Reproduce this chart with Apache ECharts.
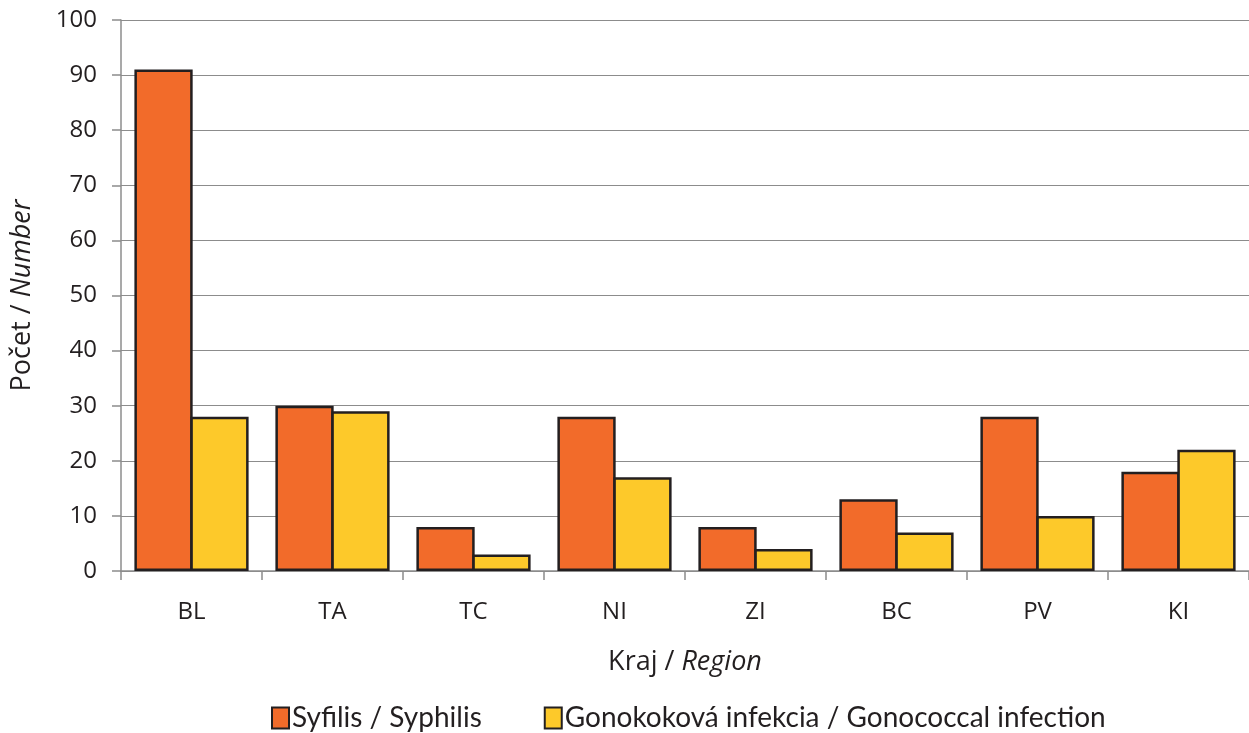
<!DOCTYPE html>
<html><head><meta charset="utf-8">
<script src="https://cdn.jsdelivr.net/npm/echarts@6/dist/echarts.min.js"></script>
<style>html,body{margin:0;padding:0;background:#fff}#c{width:1249px;height:733px}</style>
</head><body><div id="c"></div>
<script>
const categories = ['BL','TA','TC','NI','ZI','BC','PV','KI'];
const syphilis = [91,30,8,28,8,13,28,18];
const gonococcal = [28,29,3,17,4,7,10,22];
const yTicks = [0,10,20,30,40,50,60,70,80,90,100];

const font = '"Open Sans", Lato, sans-serif';
const chart = echarts.init(document.getElementById('c'), null, {renderer:'canvas'});
chart.setOption({
  animation:false,
  textStyle:{fontFamily:font},
  grid:{left:121,right:0,top:20,bottom:162,containLabel:false,outerBoundsMode:'none'},
  legend:{
    bottom:-4,left:266,itemWidth:17,itemHeight:21,itemGap:62,
    textStyle:{fontFamily:'Lato, sans-serif',fontSize:28,color:'#231F20',padding:[0,0,0,-2]},
    icon:'rect',
    itemStyle:{borderColor:'#231F20',borderWidth:2},
    data:['Syfilis / Syphilis','Gonokoková infekcia / Gonococcal infection']
  },
  xAxis:{
    type:'category',data:categories,
    axisLine:{lineStyle:{color:'#8c8c8c',width:1.5}},
    axisTick:{show:true,length:9,lineStyle:{color:'#8c8c8c',width:1.5}},
    axisLabel:{fontSize:24,color:'#231F20',margin:29},
    name:'{a|Kraj / }{b|Region}',nameLocation:'middle',nameGap:78,
    nameTextStyle:{fontSize:27,rich:{a:{fontSize:27,color:'#231F20',fontFamily:font},b:{fontSize:27,color:'#231F20',fontStyle:'italic',fontFamily:font}}}
  },
  yAxis:{
    type:'value',min:0,max:100,interval:10,
    axisLine:{show:true,lineStyle:{color:'#8c8c8c',width:1.5}},
    axisTick:{show:true,length:9,lineStyle:{color:'#8c8c8c',width:1.5}},
    splitLine:{lineStyle:{color:'#8c8c8c',width:1}},
    axisLabel:{fontSize:24,color:'#231F20',margin:24,formatter:v=>yTicks.includes(v)?String(v):''},
    name:'{a|Počet / }{b|Number}',nameLocation:'middle',nameGap:85,
    nameTextStyle:{fontSize:27,rich:{a:{fontSize:27,color:'#231F20',fontFamily:font},b:{fontSize:27,color:'#231F20',fontStyle:'italic',fontFamily:font}}}
  },
  series:[
    {name:'Syfilis / Syphilis',type:'bar',data:syphilis,barGap:'-4%',barCategoryGap:'19%',
     itemStyle:{color:'#F26B2A',borderColor:'#231F20',borderWidth:2.5}},
    {name:'Gonokoková infekcia / Gonococcal infection',type:'bar',data:gonococcal,barGap:'-4%',barCategoryGap:'19%',
     itemStyle:{color:'#FDC92A',borderColor:'#231F20',borderWidth:2.5}}
  ]
});
</script></body></html>
